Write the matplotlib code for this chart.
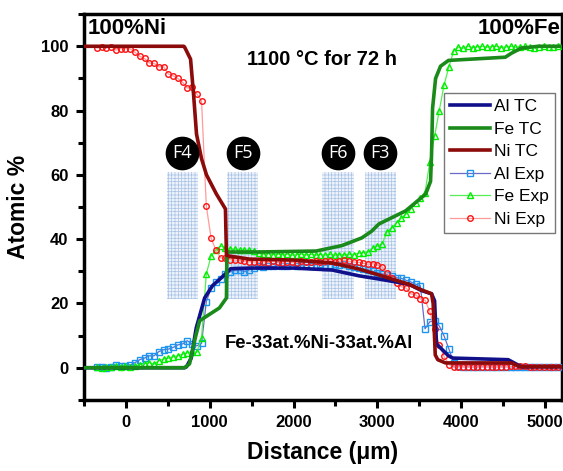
import numpy as np
import matplotlib
matplotlib.use('Agg')
import matplotlib.pyplot as plt
from matplotlib.patches import Rectangle
from matplotlib.ticker import MultipleLocator

plt.rcParams['font.family'] = ['Liberation Sans', 'DejaVu Sans']
plt.rcParams['hatch.linewidth'] = 0.5

# Thermo-Calc (TC) diffusion profiles
al_tc_x = [-500, 700, 724, 780, 840, 940, 1033, 1140, 1200, 1250, 1473, 2000, 2460, 2780, 3017,
           3373, 3527, 3646, 3682, 3705, 3848, 3900, 4560, 4715, 5200]
al_tc_y = [0, 0, 0.3, 3, 12.4, 21.7, 25.5, 28, 29.5, 30.8, 31, 31, 30.4, 28.6, 27.6,
           26, 24, 23, 20.8, 7.4, 3.7, 3, 2.5, 0.3, 0.3]

fe_tc_x = [-500, 700, 760, 820, 880, 962, 1116, 1200, 1205, 1300, 1555, 2270, 2577, 2815, 2933,
           3017, 3337, 3575, 3634, 3646, 3658, 3694, 3753, 3848, 4525, 4596, 4715, 4917, 5200]
fe_tc_y = [0, 0, 1.2, 8.4, 14.6, 16, 18.6, 21.7, 36, 36, 36, 36.3, 38, 40.4, 42.5,
           44.7, 48.8, 54, 58, 66.4, 80.7, 90, 93.8, 95.6, 96.6, 97.8, 99.4, 100, 100]

ni_tc_x = [-500, 690, 700, 772, 808, 843, 903, 962, 1081, 1188, 1200, 1220, 1473, 2000, 2460,
           2780, 3000, 3373, 3527, 3646, 3665, 3690, 3720, 3812, 4600, 4700, 5200]
ni_tc_y = [100, 100, 99.8, 96, 85, 72.7, 65, 60, 54, 49.4, 35, 34.8, 33.8, 33.5, 32.6,
           30.7, 29, 26, 24.2, 23, 20, 4, 2.5, 1.5, 1.5, 0.3, 0.3]

# EPMA line scan (Exp), one shared set of scan positions
exp_x = [-344, -287, -231, -174, -117, -60, -4, 53, 110, 166, 223, 280, 336, 393, 450, 507,
         563, 620, 677, 733, 790, 847, 903, 960, 1017, 1074, 1130, 1187, 1244, 1300, 1357,
         1414, 1470, 1527, 1584, 1640, 1697, 1754, 1811, 1867, 1924, 1981, 2037, 2094, 2151,
         2208, 2264, 2321, 2378, 2434, 2491, 2548, 2604, 2661, 2718, 2775, 2831, 2888, 2945,
         3001, 3058, 3115, 3171, 3228, 3285, 3342, 3398, 3455, 3512, 3568, 3625, 3682, 3738,
         3795, 3852, 3908, 3965, 4022, 4079, 4135, 4192, 4249, 4305, 4362, 4419, 4476, 4532,
         4589, 4646, 4702, 4759, 4816, 4873, 4929, 4986, 5043, 5099, 5156]

al_exp = [0.3, 0.3, 0.0, 0.2, 0.9, 0.5, 0.6, 0.9, 1.6, 2.5, 3.0, 3.7, 3.7, 5.0, 5.6, 5.8,
          6.3, 7.1, 7.4, 8.4, 7.4, 6.8, 7.6, 20.5, 24.8, 26.7, 27.6, 29.2, 29.8, 30.4, 30.4,
          29.9, 30.4, 31.0, 31.6, 31.4, 31.8, 31.5, 31.9, 31.6, 31.8, 32.0, 31.7, 31.9, 32.1,
          31.8, 32.0, 32.2, 31.9, 32.1, 32.3, 32.0, 32.2, 31.8, 31.3, 31.0, 30.8, 30.5, 30.0,
          29.5, 29.2, 29.0, 28.6, 28.0, 27.8, 27.2, 26.7, 26.0, 25.5, 12.1, 14.3, 14.6, 13.0,
          9.9, 5.9, 1.6, 0.5, 0.3, 0.3, 0.3, 0.3, 0.3, 0.3, 0.3, 0.3, 0.3, 0.3,
          0.3, 0.3, 0.3, 0.3, 0.3, 0.3, 0.3, 0.3, 0.3, 0.3, 0.3]

fe_exp = [0.3, 0.0, 0.3, 0.3, 0.6, 0.3, 0.6, 0.3, 0.6, 0.9, 1.3, 1.6, 1.1, 2.2, 2.7, 3.0,
          3.4, 3.7, 4.2, 4.6, 5.0, 4.8, 9.4, 29.2, 34.8, 36.6, 37.9, 37.3, 36.9, 36.9, 36.6,
          36.6, 36.6, 36.3, 35.6, 35.3, 35.5, 35.2, 35.4, 35.1, 35.3, 35.0, 35.2, 35.4, 35.1,
          35.3, 35.0, 35.2, 35.1, 35.3, 35.0, 35.2, 35.1, 35.3, 35.2, 35.6, 35.8, 36.0, 37.2,
          37.8, 38.6, 42.3, 43.5, 45.0, 46.5, 47.8, 49.4, 51.2, 52.8, 54.5, 64.0, 72.0, 80.0,
          88.0, 93.5, 98.4, 99.7, 99.4, 100, 99.6, 99.8, 100, 99.7, 99.9, 100, 99.6, 99.8,
          100, 99.7, 99.9, 100, 99.8, 99.6, 99.9, 100, 99.8, 99.9, 100]

ni_exp = [99.5, 99.9, 99.5, 99.9, 98.8, 99.3, 99.3, 99.2, 98.1, 96.9, 96.2, 94.8, 94.7, 93.6,
          93.7, 91.4, 90.8, 90.0, 88.8, 87.0, 87.4, 85.2, 83.0, 50.3, 40.3, 36.6, 34.2, 34.0,
          33.6, 33.5, 33.4, 33.2, 33.0, 32.9, 32.8, 33.0, 32.7, 33.1, 32.9, 32.6, 33.0, 32.8,
          32.7, 33.1, 32.9, 32.8, 33.2, 33.0, 33.1, 33.3, 33.0, 33.2, 33.4, 33.1, 32.9, 32.8,
          32.5, 32.2, 32.4, 32.0, 31.4, 29.5, 27.8, 26.5, 25.2, 24.8, 23.0, 22.7, 21.4, 21.0,
          17.5, 12.0, 7.0, 3.5, 1.0, 0.2, 0.2, 0.3, 0.2, 0.3, 0.2, 0.2, 0.3, 0.2, 0.3, 0.2,
          0.3, 0.4, 0.5, 0.5, 0.4, 0.3, 0.3, 0.3, 0.3, 0.3, 0.3, 0.3]

# TEM foil positions (lift-out regions)
foil_names = ['F4', 'F5', 'F6', 'F3']
foil_left = [490, 1210, 2340, 2850]
foil_right = [855, 1580, 2720, 3220]

fig = plt.figure(figsize=(5.63, 4.71), dpi=100)
ax = fig.add_axes([0.149, 0.151, 0.849, 0.819])

for name, x0, x1 in zip(foil_names, foil_left, foil_right):
    ax.add_patch(Rectangle((x0, 21.5), x1 - x0, 39.5, facecolor='#eef3fb',
                           edgecolor='#a9c3e6', hatch='+++++', linewidth=0, zorder=1))
    xc = (x0 + x1) / 2
    ax.scatter([xc], [66.8], s=540, color='black', zorder=6)
    ax.text(xc, 66.8, name, color='white', fontsize=13, family='Open Sans',
            ha='center', va='center', zorder=7)

ax.plot(exp_x, al_exp, color='#6a6ac8', lw=0.9, marker='s', ms=4, mfc='none',
        mec='#1e96f0', mew=1.0, label='Al Exp', zorder=3)
ax.plot(exp_x, fe_exp, color='#55ee55', lw=0.9, marker='^', ms=4.5, mfc='none',
        mec='#00ee00', mew=1.0, label='Fe Exp', zorder=3)
ax.plot(exp_x, ni_exp, color='#ff9a9a', lw=0.9, marker='o', ms=4, mfc='none',
        mec='#ff1010', mew=1.0, label='Ni Exp', zorder=3)

ax.plot(al_tc_x, al_tc_y, color='#10108a', lw=2.6, label='Al TC', zorder=4)
ax.plot(fe_tc_x, fe_tc_y, color='#1a8a1a', lw=2.6, label='Fe TC', zorder=4)
ax.plot(ni_tc_x, ni_tc_y, color='#8b0a0a', lw=2.6, label='Ni TC', zorder=4)

ax.set_xlim(-500, 5200)
ax.set_ylim(-10, 110)
ax.xaxis.set_major_locator(MultipleLocator(1000))
ax.xaxis.set_minor_locator(MultipleLocator(500))
ax.yaxis.set_major_locator(MultipleLocator(20))
ax.yaxis.set_minor_locator(MultipleLocator(10))
ax.tick_params(which='both', direction='out', width=2.2, top=False, right=False)
ax.tick_params(which='major', length=6, labelsize=12, pad=5)
ax.tick_params(which='minor', length=4)
for lbl in ax.get_xticklabels() + ax.get_yticklabels():
    lbl.set_fontweight('bold')
for sp in ax.spines.values():
    sp.set_linewidth(2.5)

ax.set_xlabel('Distance (\u03bcm)', fontsize=16.5, fontweight='bold', labelpad=8)
ax.set_ylabel('Atomic %', fontsize=16.5, fontweight='bold', labelpad=8)

ax.text(0.008, 0.99, '100%Ni', transform=ax.transAxes, fontsize=16,
        fontweight='bold', ha='left', va='top')
ax.text(0.997, 0.99, '100%Fe', transform=ax.transAxes, fontsize=16,
        fontweight='bold', ha='right', va='top')
ax.text(2340, 96, '1100 \u00b0C for 72 h', fontsize=14.5, fontweight='bold',
        ha='center', va='center')
ax.text(1180, 7.5, 'Fe-33at.%Ni-33at.%Al', fontsize=13.3, fontweight='bold',
        ha='left', va='center')

handles, labels = ax.get_legend_handles_labels()
order = [3, 4, 5, 0, 1, 2]
leg = ax.legend([handles[i] for i in order], [labels[i] for i in order],
                loc='upper right', bbox_to_anchor=(0.986, 0.795), fontsize=12.5,
                handlelength=2.3, handletextpad=0.25, labelspacing=0.42,
                borderpad=0.35, borderaxespad=0, fancybox=False, framealpha=1)
leg.get_frame().set_edgecolor('#777777')
leg.get_frame().set_linewidth(1.0)

fig.savefig('out.png', dpi=100)
